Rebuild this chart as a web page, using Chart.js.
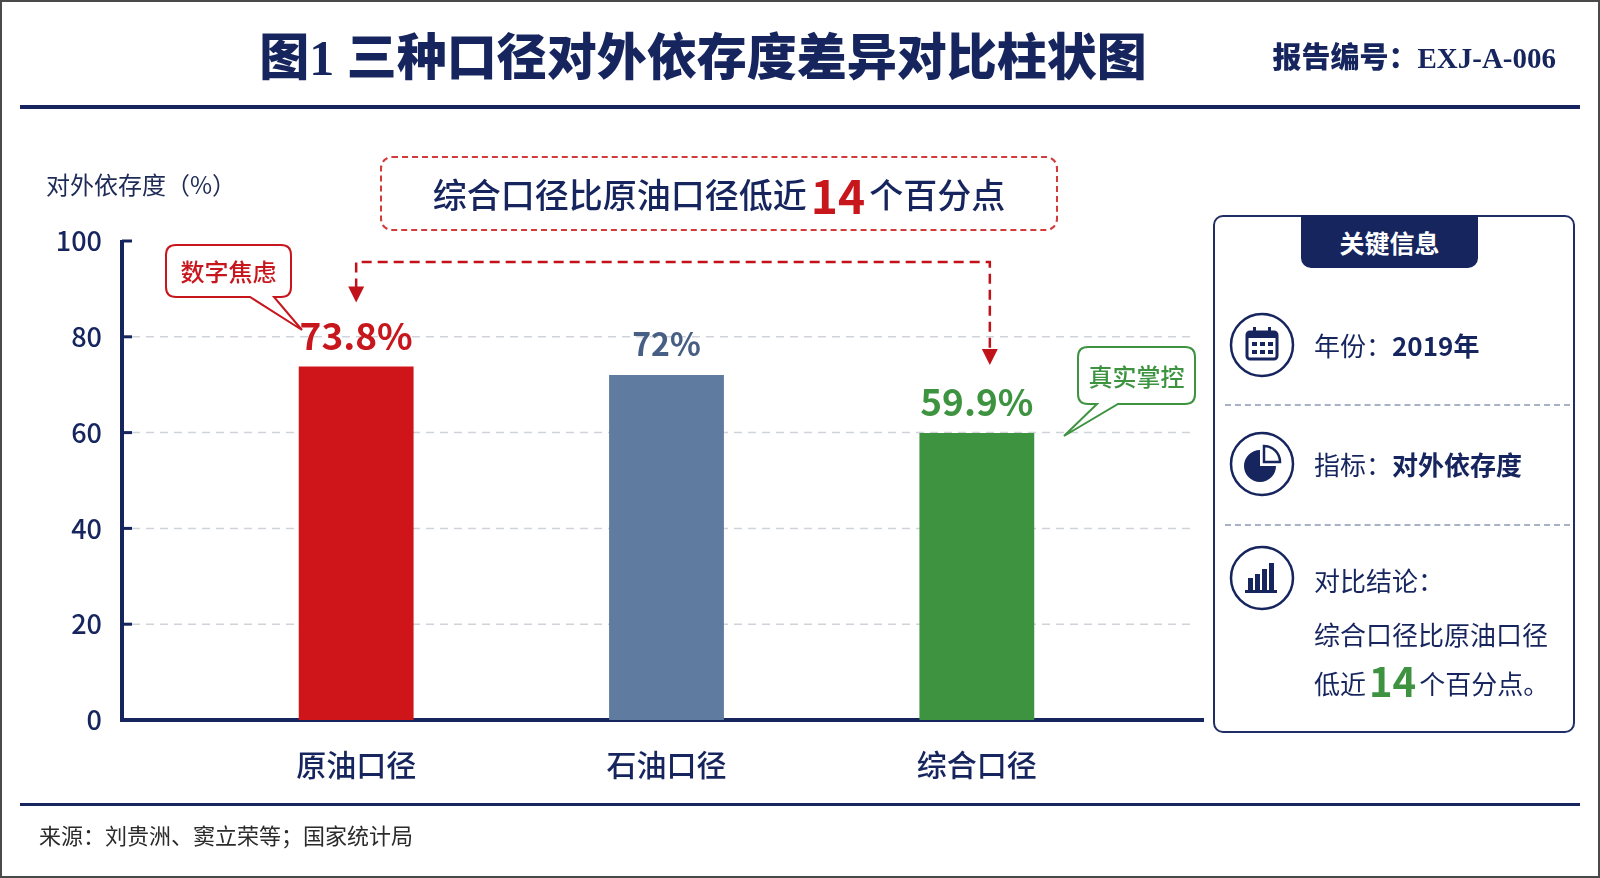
<!DOCTYPE html>
<html lang="zh-CN">
<head>
<meta charset="utf-8">
<title>图1 三种口径对外依存度差异对比柱状图</title>
<script src="https://cdn.jsdelivr.net/npm/chart.js@4.4.1/dist/chart.umd.min.js"></script>
<style>
  html, body { margin: 0; padding: 0; background: #fff; }
  body { width: 1600px; height: 878px; position: relative; overflow: hidden;
         font-family: "Noto Sans CJK SC", "Noto Sans", sans-serif; color: #16255e; }
  .frame { position: absolute; left: 0; top: 0; width: 1596px; height: 874px; border: 2px solid #4a4a4a; }
  #chart { position: absolute; left: 0; top: 0; }
  .abs { position: absolute; white-space: nowrap; }
  .title { left: 0; width: 1406px; top: 28px; text-align: center; font-size: 50px; font-weight: 900;
           line-height: 60px; font-family: "Liberation Serif", "Noto Sans CJK SC", serif; letter-spacing: 0px; }
  .reportno { right: 44px; top: 39px; font-size: 29px; font-weight: 900; line-height: 38px;
              font-family: "Liberation Serif", "Noto Sans CJK SC", serif; }
  .rule { left: 20px; width: 1560px; background: #16255e; }
  .ytitle { left: 46px; top: 167px; font-size: 24px; line-height: 34px; color: #1c2a55; }
  .note { left: 380px; top: 156px; width: 674px; height: 71px; border: 2px dashed #d33a3a; border-radius: 12px;
          display: flex; align-items: center; justify-content: center; font-size: 34px; font-weight: 500; }
  .note b { color: #c8161d; font-size: 46px; font-weight: 700; margin: 0 4px; }
  .bubble-text { font-size: 24px; font-weight: 500; text-align: center; line-height: 30px; }
  .panel { left: 1213px; top: 215px; width: 358px; height: 514px; border: 2px solid #1f2f66; border-radius: 10px; }
  .tab { left: 1301px; top: 215px; width: 177px; height: 53px; background: #16255e; color: #fff;
         border-radius: 0 0 10px 10px; font-size: 25px; font-weight: 700; display: flex;
         align-items: center; justify-content: center; }
  .row { left: 1314px; font-size: 26px; line-height: 36px; color: #16255e; }
  .row b { font-weight: 700; }
  .row .num { color: #3e9341; font-size: 40px; font-weight: 700; margin: 0 3px; vertical-align: -3px; }
  .sep { left: 1225px; width: 345px; border-top: 2px dashed #a9b1c6; }
  .source { left: 39px; top: 822px; font-size: 22px; line-height: 30px; color: #2b2b2b;
            font-family: "Liberation Serif", "Noto Sans CJK SC", serif; }
</style>
</head>
<body>
<div class="frame"></div>
<canvas id="chart" width="1600" height="878"></canvas>

<div class="abs title">图1 三种口径对外依存度差异对比柱状图</div>
<div class="abs reportno">报告编号：EXJ-A-006</div>
<div class="abs rule" style="top:105px;height:4px;"></div>

<div class="abs ytitle">对外依存度（%）</div>
<div class="abs note">综合口径比原油口径低近<b>14</b>个百分点</div>

<svg class="abs" style="left:0;top:0;" width="1600" height="878">
  <path d="M176,245 H281 Q291,245 291,255 V287 Q291,297 281,297 H274 L302,330 L250,297 H176 Q166,297 166,287 V255 Q166,245 176,245 Z"
        fill="#fff" stroke="#c8161d" stroke-width="2"/>
  <path d="M1088,347 H1185 Q1195,347 1195,357 V394 Q1195,404 1185,404 H1118 L1064,436 L1097,404 H1088 Q1078,404 1078,394 V357 Q1078,347 1088,347 Z"
        fill="#fff" stroke="#3e9341" stroke-width="2"/>

  <!-- icons -->
  <g fill="none" stroke="#16255e" stroke-width="2.5">
    <circle cx="1262" cy="345" r="31"/>
    <circle cx="1262" cy="464" r="31"/>
    <circle cx="1262" cy="578" r="31"/>
  </g>
  <g fill="#16255e">
    <rect x="1247" y="332" width="30" height="27" rx="3" fill="none" stroke="#16255e" stroke-width="3"/>
    <rect x="1247" y="332" width="30" height="6"/>
    <rect x="1253" y="327" width="3" height="8"/><rect x="1268" y="327" width="3" height="8"/>
    <rect x="1252" y="342" width="5" height="4"/><rect x="1260" y="342" width="5" height="4"/><rect x="1268" y="342" width="5" height="4"/>
    <rect x="1252" y="350" width="5" height="4"/><rect x="1260" y="350" width="5" height="4"/><rect x="1268" y="350" width="5" height="4"/>
    <path d="M1260,450 A16,16 0 1 0 1276,466 L1260,466 Z"/>
    <path d="M1264,446 L1264,462 L1280,462 A16,16 0 0 0 1264,446 Z" fill="none" stroke="#16255e" stroke-width="2.5"/>
    <rect x="1248" y="578" width="5" height="13"/><rect x="1255" y="574" width="5" height="17"/>
    <rect x="1262" y="569" width="5" height="22"/><rect x="1269" y="563" width="5" height="28"/>
    <rect x="1245" y="590" width="32" height="3"/>
  </g>
</svg>
<div class="abs bubble-text" style="left:166px;top:256px;width:125px;color:#c8161d;">数字焦虑</div>
<div class="abs bubble-text" style="left:1078px;top:361px;width:117px;color:#3e9341;">真实掌控</div>

<div class="abs panel"></div>
<div class="abs tab">关键信息</div>
<div class="abs row" style="top:327px;">年份：<b>2019年</b></div>
<div class="abs sep" style="top:404px;"></div>
<div class="abs row" style="top:446px;">指标：<b>对外依存度</b></div>
<div class="abs sep" style="top:524px;"></div>
<div class="abs row" style="top:562px;">对比结论：</div>
<div class="abs row" style="top:616px;">综合口径比原油口径</div>
<div class="abs row" style="top:662px;">低近<span class="num">14</span>个百分点。</div>

<div class="abs rule" style="top:803px;height:3px;"></div>
<div class="abs source">来源：刘贵洲、窦立荣等；国家统计局</div>

<script>
// data
const categories = ["原油口径", "石油口径", "综合口径"];
const dependence = [73.8, 72, 59.9];
const valueLabels = ["73.8%", "72%", "59.9%"];
const yTicks = [0, 20, 40, 60, 80, 100];

const NAVY = "#16255e";
const barColors = ["#d0151a", "#5f7ba0", "#3e9341"];
const labelColors = ["#c8161d", "#475f84", "#3e9341"];
const labelSizes = [37, 32, 37];
const FONT = '"Noto Sans CJK SC", "Noto Sans", sans-serif';

const decor = {
  id: "decor",
  beforeDatasetsDraw(chart) {
    const { ctx, scales: { y } } = chart;
    const axisX = 122;
    ctx.save();
    // dashed grid lines
    ctx.strokeStyle = "#cfd3da";
    ctx.lineWidth = 1.5;
    ctx.setLineDash([8, 6]);
    yTicks.forEach((v) => {
      if (v === 0 || v === 100) return;
      const py = y.getPixelForValue(v);
      ctx.beginPath();
      ctx.moveTo(axisX + 10, py);
      ctx.lineTo(1196, py);
      ctx.stroke();
    });
    ctx.setLineDash([]);
    // axes
    ctx.strokeStyle = NAVY;
    ctx.lineWidth = 4;
    ctx.beginPath();
    ctx.moveTo(axisX, y.getPixelForValue(100) - 1);
    ctx.lineTo(axisX, y.getPixelForValue(0));
    ctx.lineTo(1204, y.getPixelForValue(0));
    ctx.stroke();
    ctx.lineWidth = 3;
    yTicks.forEach((v) => {
      if (v === 0) return;
      const py = y.getPixelForValue(v);
      ctx.beginPath();
      ctx.moveTo(axisX, py);
      ctx.lineTo(axisX + 10, py);
      ctx.stroke();
    });
    ctx.restore();
  },
  afterDatasetsDraw(chart) {
    const { ctx } = chart;
    const bars = chart.getDatasetMeta(0).data;
    ctx.save();
    // value labels
    ctx.textAlign = "center";
    ctx.textBaseline = "middle";
    bars.forEach((bar, i) => {
      ctx.font = `700 ${labelSizes[i]}px ${FONT}`;
      ctx.fillStyle = labelColors[i];
      ctx.fillText(valueLabels[i], bar.x, bar.y - 31);
    });
    // dashed connector arrow from first to last bar
    const a = bars[0], b = bars[bars.length - 1];
    const topY = 262;
    const x1 = a.x, x2 = b.x + 13;
    const tip1 = a.y - 64, tip2 = b.y - 68;
    ctx.strokeStyle = "#c1121a";
    ctx.fillStyle = "#c1121a";
    ctx.lineWidth = 2.5;
    ctx.setLineDash([10, 6]);
    ctx.beginPath();
    ctx.moveTo(x1, tip1 - 14);
    ctx.lineTo(x1, topY);
    ctx.lineTo(x2, topY);
    ctx.lineTo(x2, tip2 - 14);
    ctx.stroke();
    ctx.setLineDash([]);
    [[x1, tip1], [x2, tip2]].forEach(([x, t]) => {
      ctx.beginPath();
      ctx.moveTo(x - 8, t - 16);
      ctx.lineTo(x + 8, t - 16);
      ctx.lineTo(x, t);
      ctx.closePath();
      ctx.fill();
    });
    ctx.restore();
  },
};

new Chart(document.getElementById("chart"), {
  type: "bar",
  data: {
    labels: categories,
    datasets: [
      {
        data: dependence,
        backgroundColor: barColors,
        borderWidth: 0,
        barPercentage: 0.37,
        categoryPercentage: 1,
      },
    ],
  },
  options: {
    responsive: false,
    animation: false,
    devicePixelRatio: 1,
    layout: { padding: { top: 241, right: 468, bottom: 0, left: 0 } },
    plugins: { legend: { display: false }, tooltip: { enabled: false } },
    scales: {
      x: {
        grid: { display: false },
        border: { display: false },
        ticks: { color: NAVY, padding: 19, font: { family: FONT, size: 30, weight: 500 } },
        afterFit(scale) { scale.height = 158; },
      },
      y: {
        min: 0,
        max: 100,
        grid: { display: false },
        border: { display: false },
        afterBuildTicks(scale) { scale.ticks = yTicks.map((v) => ({ value: v })); },
        ticks: { color: NAVY, padding: 91, font: { family: FONT, size: 27, weight: 500 } },
        afterFit(scale) { scale.width = 201; },
      },
    },
  },
  plugins: [decor],
});
</script>
</body>
</html>
